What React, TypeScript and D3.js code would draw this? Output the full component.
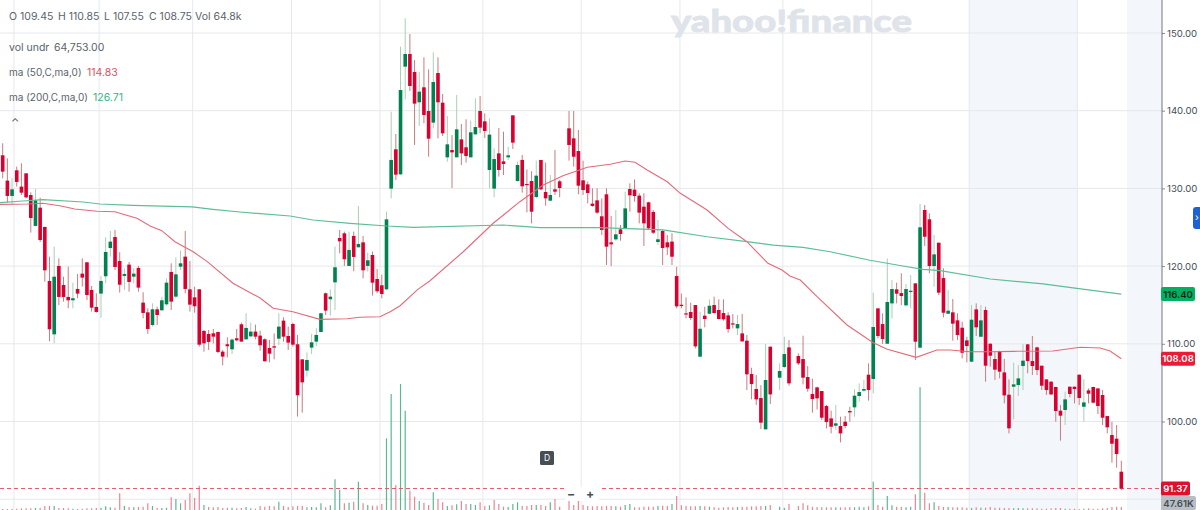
import React, { useEffect, useRef } from 'react';
import * as d3 from 'd3';

type Num = number | null;

// daily candles, oldest first. null = session with no candle drawn
const highs: Num[] = [
  135.80, 133.87, 131.30, 132.80, 133.23, 131.94, 129.50, 129.93, 128.81, 125.08,
  121.22, 122.50, 121.00, 118.64, 119.93, 117.87, 118.99, 121.00, 120.49, 117.44,
  116.50, 118.73, 123.71, 124.52, 124.65, 121.78, 119.72, 120.53, 119.72, 120.02,
  116.63, 114.57, 115.21, 114.78, 116.07, 118.43, 120.36, 121.13, 121.99, 124.52,
  120.66, 117.36, 117.06, 111.78, 111.78, 111.91, 111.57, 109.21, 110.84, 110.71,
  111.91, 112.72, 113.93, 112.72, 112.47, 111.69, 110.71, 110.49, 111.35, 113.93,
  113.41, 112.21, 112.72, 111.14, 108.00, 108.90, 111.27, 112.00, 114.01, 116.59,
  117.01, 122.50, 124.65, 124.44, 124.44, 124.44, 127.74, 123.88, 121.73, 121.86,
  119.63, 118.90, 127.01, 139.87, 137.00, 148.24, 151.89, 149.87, 146.53, 145.02,
  146.87, 145.32, 147.51, 146.87, 142.15, 139.32, 136.87, 142.02, 138.29, 138.89,
  138.72, 141.59, 141.89, 139.66, 139.02, 135.16, 137.77, 137.30, 135.37, 139.40,
  133.44, 134.30, 132.45, 132.20, 133.57, 133.66, 133.31, 131.72, 134.94, 131.08,
  null, 139.96, 139.96, 137.52, 133.57, 130.87, 130.01, 130.01, 128.72, 130.01,
  126.45, 127.22, 125.29, 129.58, 130.65, 131.17, 129.37, 129.37, 128.29, 127.22,
  125.93, 124.65, 124.00, 124.22, 119.92, 116.49, 115.98, 115.29, 114.99, 114.13,
  114.77, 115.72, 116.06, 115.72, 115.72, 114.05, 113.83, 113.70, 113.83, 111.13,
  106.92, 105.98, 104.69, 109.97, 109.63, null, 107.48, 110.91, 110.48, null,
  108.77, 111.04, 107.14, 105.51, 104.48, 103.92, 102.12, 101.39, 102.12, 100.62,
  100.70, 101.90, 104.14, 104.91, 105.34, 107.48, 116.58, 114.56, 113.92, 120.98,
  118.21, 117.86, 119.07, 117.69, 118.85, 117.78, 127.99, 127.86, 126.79, 124.00,
  123.01, 119.71, 116.92, 115.76, 113.92, 112.84, 110.91, 114.99, 115.20, 114.99,
  114.77, 110.06, 108.98, 109.11, 108.04, 105.42, 107.57, 107.27, 109.97, 109.97,
  111.00, 109.63, 107.18, 105.42, 105.21, 104.48, 102.12, 103.84, 104.48, 104.48,
  106.07, 105.42, 104.26, 104.48, 104.26, 104.05, 100.70, 99.97, 99.55, 94.96,
];
const lows: Num[] = [
  131.30, 128.17, 127.87, 130.23, 129.15, 128.73, 124.31, 125.08, 123.10, 118.00,
  110.32, 110.06, 115.00, 115.43, 114.57, 114.57, 115.86, 117.36, 115.64, 114.14,
  114.01, 113.37, 117.79, 121.22, 119.50, 116.59, 116.93, 116.71, 117.79, 116.71,
  113.28, 111.27, 112.21, 112.42, 114.27, 114.87, 114.35, 115.86, 119.50, 116.50,
  114.14, 114.01, 109.64, 108.99, 109.21, 110.06, 108.78, 107.23, 108.26, 108.69,
  110.32, 110.28, 110.49, 110.84, 110.58, 109.12, 107.71, 107.62, 108.00, 109.85,
  110.28, 109.21, 109.64, 100.63, 101.14, 105.77, 108.69, 109.72, 111.48, 113.71,
  113.63, 114.35, 121.65, 120.02, 120.02, 119.33, 122.42, 118.43, 119.29, 116.20,
  116.50, 115.86, 116.93, 128.72, 131.08, 131.72, 141.46, 142.54, 135.59, 138.03,
  138.37, 134.08, 137.73, 136.44, 136.74, 133.44, 130.05, 134.00, 133.01, 133.31,
  134.00, 136.87, 137.09, 136.49, 130.01, 128.85, 131.51, 131.72, 133.66, 135.07,
  130.87, 129.45, 126.92, 125.50, 128.72, 129.79, 127.78, 128.42, 129.15, 128.85,
  null, 133.57, 132.80, 129.24, 129.15, 128.08, 127.65, 126.71, 124.00, 120.14,
  120.01, 123.27, 123.27, 124.77, 127.00, 128.29, 125.50, 122.59, 124.73, 124.13,
  122.72, 120.14, 121.43, 120.14, 114.56, 114.56, 113.27, 113.06, 109.41, 108.34,
  112.12, 113.83, 113.92, 113.15, 112.97, 111.43, 111.99, 111.13, 110.27, 104.05,
  102.85, 102.12, 99.03, 98.99, 102.25, null, 104.05, 106.84, 104.61, null,
  107.27, 104.78, 103.84, 101.13, 101.56, 100.19, 99.12, 98.47, 98.90, 97.31,
  99.12, 99.97, 100.62, 102.55, 103.84, 102.68, 103.62, 110.70, 109.97, 109.97,
  113.27, 115.20, 114.99, 114.77, 114.56, 107.91, 109.41, 122.58, 119.07, 117.35,
  116.28, 113.40, 113.83, 110.40, 110.48, 108.12, 107.61, 107.65, 111.00, 110.91,
  105.12, 107.05, 105.34, 105.55, 102.33, 98.47, 100.27, 103.28, 104.05, 106.20,
  105.98, 105.98, 104.05, 103.41, 103.41, 99.97, 97.53, 99.55, 103.11, 102.33,
  102.12, 99.97, 102.33, 102.33, 100.96, 99.55, 98.47, 94.70, 94.06, 91.18,
];
const bodyTops: Num[] = [
  134.26, 131.00, 129.88, 132.33, 130.23, 131.94, 129.15, 128.47, 127.52, 125.04,
  118.09, 118.64, 120.02, 117.57, 116.03, 115.86, 117.06, 119.03, 120.49, 116.93,
  114.74, 118.09, 121.82, 123.15, 123.75, 120.66, 118.99, 120.19, 119.03, 119.76,
  115.30, 114.05, 114.44, 114.44, 115.60, 117.87, 119.25, 118.94, 120.36, 121.22,
  117.01, 115.98, 117.01, 111.65, 111.27, 111.35, 111.52, 108.99, 109.94, 110.54,
  110.71, 112.51, 112.04, 111.57, 111.57, 111.05, 110.58, 109.46, 109.68, 112.21,
  112.98, 111.01, 112.55, 109.94, 108.00, 107.92, 110.19, 111.14, 113.93, 116.50,
  116.07, 119.85, 123.62, 124.22, 122.08, 123.88, 122.85, 123.06, 120.75, 121.43,
  118.34, 117.53, 126.02, 133.66, 135.03, 142.66, 147.30, 147.30, 144.98, 142.45,
  143.01, 139.96, 143.69, 144.85, 141.03, 135.67, 134.94, 137.60, 136.31, 135.29,
  137.22, 137.90, 139.96, 138.63, 136.92, 133.78, 134.51, 133.48, 134.26, 139.40,
  133.01, 133.66, 130.57, 130.95, 131.64, 133.66, 129.54, 129.15, 129.88, 130.91,
  null, 137.73, 136.44, 134.81, 131.04, 130.52, 128.04, 128.46, 126.41, 129.24,
  123.06, 124.09, 124.73, 127.43, 129.92, 129.84, 129.07, 127.65, 128.21, 126.96,
  123.45, 124.52, 123.06, 123.15, 118.72, 115.03, 113.92, 114.09, 114.99, 111.94,
  113.62, 114.90, 114.99, 114.35, 113.96, 113.66, 112.63, 112.54, 111.34, 110.40,
  106.11, 104.18, 103.02, 105.34, 109.63, null, 106.50, 108.68, 109.54, null,
  108.43, 108.04, 105.72, 103.54, 104.39, 103.92, 101.99, 100.40, 99.76, 99.42,
  99.97, 101.35, 103.32, 103.79, 104.18, 106.02, 112.16, 114.56, 112.54, 115.38,
  117.05, 117.01, 116.53, 117.05, 116.83, 117.78, 124.99, 127.22, 126.02, 121.51,
  123.01, 118.46, 114.26, 114.05, 113.02, 112.07, 110.44, 113.10, 114.43, 113.02,
  114.35, 110.01, 108.04, 109.03, 106.32, 103.45, 104.78, 105.55, 107.83, 109.93,
  107.78, 109.54, 107.18, 105.42, 105.12, 104.44, 101.39, 102.85, 104.48, 104.48,
  106.02, 102.46, 104.01, 104.44, 104.26, 103.41, 100.70, 98.26, 97.79, 93.54,
];
const bodyBottoms: Num[] = [
  132.16, 129.03, 129.03, 130.83, 129.45, 128.85, 126.19, 125.17, 123.36, 119.46,
  111.87, 111.22, 116.03, 116.03, 115.60, 115.60, 116.46, 118.52, 116.28, 114.65,
  114.10, 116.46, 118.69, 122.33, 119.89, 117.61, 118.73, 117.96, 118.64, 117.23,
  113.97, 111.91, 112.42, 113.71, 114.31, 115.08, 115.43, 116.07, 119.93, 117.06,
  115.04, 114.83, 109.89, 110.06, 110.24, 110.92, 108.95, 108.35, 109.68, 109.29,
  110.45, 110.28, 110.58, 110.96, 110.92, 109.81, 107.75, 108.73, 109.51, 110.66,
  110.92, 110.15, 109.89, 103.37, 105.04, 106.55, 109.51, 110.28, 111.52, 114.27,
  115.73, 117.91, 123.19, 120.88, 120.02, 121.18, 122.42, 119.46, 120.02, 117.87,
  116.76, 116.41, 117.01, 129.97, 131.77, 131.81, 145.67, 143.18, 140.91, 141.08,
  139.45, 136.40, 138.46, 141.08, 137.09, 134.00, 134.64, 134.00, 134.51, 134.17,
  134.00, 136.96, 137.82, 137.39, 132.37, 129.97, 132.37, 133.14, 134.00, 135.89,
  130.95, 130.27, 130.44, 127.00, 128.89, 129.88, 128.72, 128.42, 129.58, 130.05,
  null, 135.59, 134.08, 130.35, 129.79, 129.41, 127.74, 126.88, 124.65, 122.50,
  122.80, 123.44, 124.13, 124.77, 129.11, 129.02, 126.88, 125.50, 124.86, 124.30,
  123.10, 122.33, 122.41, 121.21, 114.82, 114.86, 113.79, 113.32, 109.67, 108.34,
  113.19, 113.87, 113.96, 113.19, 113.15, 111.90, 112.50, 111.99, 110.31, 106.07,
  104.82, 102.85, 99.85, 98.99, 103.49, null, 105.64, 107.01, 104.91, null,
  107.48, 105.64, 104.22, 102.89, 102.98, 100.49, 99.93, 99.33, 99.46, 98.47,
  99.42, 101.17, 101.82, 103.28, 103.97, 104.05, 105.47, 111.00, 110.61, 110.01,
  115.20, 116.45, 116.15, 114.95, 116.66, 110.27, 109.50, 123.78, 120.01, 120.01,
  116.58, 114.00, 113.87, 112.59, 111.13, 108.85, 109.71, 107.70, 112.12, 110.91,
  107.18, 108.47, 106.67, 106.41, 103.36, 99.12, 104.48, 104.69, 107.14, 107.78,
  107.14, 106.62, 104.61, 104.05, 103.49, 101.35, 100.75, 101.48, 103.54, 104.18,
  103.02, 101.90, 103.58, 102.42, 101.99, 100.49, 99.25, 97.14, 95.81, 91.37,
];
// candles that closed above their open
const upCandles = [
  2, 7, 11, 15, 21, 22, 23, 26, 28, 32, 34, 35, 37, 38, 49, 52, 53, 59, 65, 66, 67, 68, 70, 71,
  74, 76, 78, 82, 83, 85, 86, 89, 92, 95, 97, 100, 101, 104, 105, 108, 110, 114, 117, 131, 133,
  140, 149, 151, 157, 163, 166, 167, 178, 182, 183, 184, 186, 189, 190, 193, 194, 196, 199, 202,
  207, 209, 216, 217, 218, 227, 231,
];

// volume in thousands
const volumes: Num[] = [
  16, 16, 16, 21, 27, 27, 27, 32, 37, 64, 64, 64, 32, 32, 27, 21, 16, 21, 27, 27,
  32, 37, 59, 43, 37, 267, 64, 48, 43, 48, 53, 107, 64, 32, 32, 37, 203, 176, 107, 160,
  267, 192, 389, 80, 48, 43, 48, 32, 37, 37, 27, 32, 48, 27, 21, 64, 53, 64, 59, 133,
  64, 48, 59, 64, 64, 43, 48, 43, 107, 43, 75, 491, 320, 107, 117, 133, 453, 107, 80, 69,
  69, 96, 1146, 1855, 400, 2015, 1589, 309, 213, 144, 117, 80, 283, 176, 123, 64, 75, 91, 144, 96,
  96, 80, 123, 64, 75, 160, 96, 53, 48, 96, 123, 64, 64, 80, 80, 80, 64, 123, 176, 53,
  null, 149, 80, 144, 80, 64, 59, 64, 59, 64, 64, 59, 53, 80, 96, 43, 43, 53, 53, 53,
  64, 69, 64, 96, 224, 75, 64, 59, 59, 64, 59, 53, 43, 37, 43, 48, 43, 48, 53, 53,
  59, 59, 64, 64, 80, null, 53, 37, 96, null, 64, 107, 75, 53, 48, 43, 43, 43, 43, 43,
  43, 48, 43, 53, 43, 59, 453, 80, 53, 224, 75, 53, 48, 43, 53, 251, 1962, 277, 107, 123,
  64, 48, 48, 43, 43, 43, 37, 32, 43, 37, 37, 48, 37, 37, 32, 32, 27, 32, 27, 27,
  27, 27, 21, 21, 27, 32, 32, 21, 21, 21, 16, 21, 27, 21, 21, 27, 32, 48, 53, 48,
];
// sessions whose volume bar is coloured against its candle
const volumeColorFlips = [43, 72, 105, 109, 143, 134];

// moving averages: candle index, price
const ma50Idx = [
  -0.6, 5.2, 8.6, 12.2, 15.4, 20.2, 24, 26.1, 28.7, 31.5, 34, 36.8, 40.7, 43.7, 49.2, 55, 57.8, 62,
  67.8, 73.6, 76.3, 80.6, 82.8, 84.9, 88.7, 91.3, 98.4, 104.8, 110.5, 115.5, 119.7, 124.9, 129.8,
  133, 135.1, 137.7, 142, 144.7, 150.5, 155, 159, 163.5, 166.5, 168.2, 170.4, 174, 180.4, 186, 189,
  195.2, 199.6, 202.4, 206.7, 211, 215.9, 224.4, 230.2, 234.5, 236.6, 239,
];
const ma50Val = [
  127.94, 127.99, 128.08, 127.77, 127.35, 127.05, 127.0, 126.62, 126.15, 125.16, 124.56, 123.14,
  121.85, 120.57, 117.79, 115.89, 114.57, 114.13, 113.15, 113.23, 113.41, 113.49, 114.13, 114.9,
  117.01, 118.12, 121.85, 125.51, 128.29, 130.44, 131.63, 132.72, 133.1, 133.53, 133.36, 132.37,
  130.86, 129.4, 127.22, 124.86, 123.14, 120.36, 119.5, 118.73, 118.21, 116.06, 112.42, 110.14,
  109.29, 108.26, 109.2, 109.2, 108.98, 108.98, 109.03, 109.07, 109.55, 109.46, 109.07, 108.08,
];
const ma200Idx = [
  -0.6, 4.3, 8.6, 17.2, 20.8, 27.8, 40.5, 44.9, 50.7, 61.4, 66.3, 74.2, 82.1, 87.7, 106.9, 114.8,
  127.6, 141.1, 150.5, 159, 164.6, 171, 176.8, 185.3, 191.7, 196.6, 200.3, 211, 222.3, 229.5, 239,
];
const ma200Val = [
  128.16, 128.38, 128.55, 128.25, 127.99, 127.82, 127.61, 127.31, 126.96, 126.45, 125.93, 125.51,
  125.16, 124.99, 125.29, 124.94, 124.94, 124.65, 123.78, 123.14, 122.71, 122.42, 121.85, 120.75,
  120.08, 119.59, 119.41, 118.34, 117.7, 117.14, 116.4,
];

const priceTicks = [90, 100, 110, 120, 130, 140, 150];
const labelTicks = [100, 110, 120, 130, 140, 150];
const monthTicks = [2.4, 20.6, 40.6, 61.7, 80.6, 102.6, 123.6, 144.7, 166.7, 185.7, 206.5, 229.6];
// extended hours bands, in candle index
const shadedBands: [number, number][] = [[206.5, 229.7], [240.2, 247.6]];

const ohlc: [string, string][] = [['O', '109.45'], ['H', '110.85'], ['L', '107.55'], ['C', '108.75'], ['Vol', '64.8k']];
const ohlcX = [9, 58, 104, 149, 195];

const UP = '#008150';
const DOWN = '#d9002f';
const UP_WICK = '#a9cfb4';
const DOWN_WICK = '#c97c7f';
const UP_VOL = '#5cb890';
const DOWN_VOL = '#ee8492';
const MA_RED = '#e56a78';
const MA_GREEN = '#5cbf96';
const TEXT = '#5b636a';
const GRID = '#e6e8ec';
const FONT = 'Inter, sans-serif';

const W = 1200;
const H = 510;
const AXIS_X = 1162;

const App: React.FC = () => {
  const svgRef = useRef<SVGSVGElement | null>(null);

  useEffect(() => {
    const svg = d3.select(svgRef.current);
    svg.selectAll('*').remove();

    const x = d3.scaleLinear().domain([0, 239]).range([2.7, 1121.3]);
    const y = d3.scaleLinear().domain([100, 150]).range([421.5, 33]);
    const yVol = d3.scaleLinear().domain([0, 2015]).range([510, 384]);
    const isUp = new Set(upCandles);

    svg.selectAll('rect.band').data(shadedBands).enter().append('rect')
      .attr('x', (d) => x(d[0])).attr('width', (d) => x(d[1]) - x(d[0]))
      .attr('y', 0).attr('height', H).attr('fill', '#f3f6fa');

    // grid
    svg.selectAll('line.gy').data(priceTicks).enter().append('line')
      .attr('x1', 0).attr('x2', AXIS_X).attr('y1', (d) => y(d)).attr('y2', (d) => y(d))
      .attr('stroke', GRID).attr('stroke-width', 1);
    svg.selectAll('line.gx').data(monthTicks).enter().append('line')
      .attr('x1', (d) => x(d)).attr('x2', (d) => x(d)).attr('y1', 0).attr('y2', H)
      .attr('stroke', GRID).attr('stroke-width', 1);

    svg.append('text').text('yahoo!finance')
      .attr('x', 671).attr('y', 32)
      .attr('textLength', 241).attr('lengthAdjust', 'spacingAndGlyphs')
      .attr('font-family', 'Lato, sans-serif').attr('font-weight', 900).attr('font-size', 31)
      .attr('fill', '#dfe3ea').attr('stroke', '#dfe3ea').attr('stroke-width', 0.8);

    // volume
    const volIdx = d3.range(volumes.length).filter((i) => volumes[i] !== null);
    svg.selectAll('line.vol').data(volIdx).enter().append('line')
      .attr('x1', (i) => x(i)).attr('x2', (i) => x(i))
      .attr('y1', H).attr('y2', (i) => yVol(volumes[i] as number))
      .attr('stroke', (i) => (isUp.has(i) !== volumeColorFlips.includes(i) ? UP_VOL : DOWN_VOL))
      .attr('stroke-width', 1.2);

    // last price line
    svg.append('line')
      .attr('x1', 0).attr('x2', AXIS_X).attr('y1', y(91.37)).attr('y2', y(91.37))
      .attr('stroke', '#e8566a').attr('stroke-width', 1).attr('stroke-dasharray', '4 3');

    // candles
    const idx = d3.range(highs.length).filter((i) => highs[i] !== null);
    svg.selectAll('line.wick').data(idx).enter().append('line')
      .attr('x1', (i) => x(i)).attr('x2', (i) => x(i))
      .attr('y1', (i) => y(highs[i] as number)).attr('y2', (i) => y(lows[i] as number))
      .attr('stroke', (i) => (isUp.has(i) ? UP_WICK : DOWN_WICK)).attr('stroke-width', 1);
    svg.selectAll('rect.body').data(idx).enter().append('rect')
      .attr('x', (i) => x(i) - 1.8).attr('width', 3.6)
      .attr('y', (i) => y(bodyTops[i] as number))
      .attr('height', (i) => Math.max(1.2, y(bodyBottoms[i] as number) - y(bodyTops[i] as number)))
      .attr('fill', (i) => (isUp.has(i) ? UP : DOWN));

    // moving averages
    const maLine = d3.line<[number, number]>().x((d) => x(d[0])).y((d) => y(d[1]));
    const ma50 = ma50Idx.map((d, i) => [d, ma50Val[i]] as [number, number]);
    const ma200 = ma200Idx.map((d, i) => [d, ma200Val[i]] as [number, number]);
    svg.append('path').attr('d', maLine(ma50)).attr('fill', 'none').attr('stroke', MA_RED).attr('stroke-width', 1.1);
    svg.append('path').attr('d', maLine(ma200)).attr('fill', 'none').attr('stroke', MA_GREEN).attr('stroke-width', 1.2);

    // price axis
    const axis = d3.axisRight(y).tickValues(labelTicks).tickFormat(d3.format('.2f')).tickSize(3).tickPadding(2);
    const axisG = svg.append('g').attr('transform', `translate(${AXIS_X},0)`).call(axis);
    axisG.select('.domain').remove();
    axisG.selectAll('.tick line').attr('stroke', '#8a9099');
    axisG.selectAll('.tick text').attr('font-family', FONT).attr('font-size', 9.6).attr('fill', '#464e56');
    svg.append('line').attr('x1', AXIS_X).attr('x2', AXIS_X).attr('y1', 0).attr('y2', H)
      .attr('stroke', '#6e757d').attr('stroke-width', 1);

    // price tags
    const tags = [
      { t: '116.40', cy: y(116.4), w: 34, bg: '#00b061', fg: '#16261c' },
      { t: '108.08', cy: y(108.08), w: 34, bg: '#eb1a35', fg: '#ffffff' },
      { t: '91.37', cy: y(91.37), w: 29, bg: '#e0102c', fg: '#ffffff' },
      { t: '47.61K', cy: 503, w: 35, bg: '#b9bec6', fg: '#464e56' },
    ];
    tags.forEach((tag) => {
      svg.append('rect').attr('x', AXIS_X - 1).attr('y', tag.cy - 7).attr('width', tag.w).attr('height', 14)
        .attr('rx', 2).attr('fill', tag.bg);
      svg.append('text').text(tag.t).attr('x', AXIS_X - 1 + tag.w / 2).attr('y', tag.cy + 3.5)
        .attr('text-anchor', 'middle').attr('font-family', FONT).attr('font-size', 9.6)
        .attr('font-weight', 600).attr('fill', tag.fg);
    });

    // side tab
    svg.append('rect').attr('x', 1193).attr('y', 207).attr('width', 12).attr('height', 22).attr('rx', 3).attr('fill', '#1d62d4');
    svg.append('text').text('›').attr('x', 1195).attr('y', 221).attr('font-family', FONT).attr('font-size', 10).attr('fill', '#ffffff');

    // legend
    const legend = (s: string, lx: number, ly: number, fill = TEXT, size = 10.5) =>
      svg.append('text').text(s).attr('x', lx).attr('y', ly)
        .attr('font-family', FONT).attr('font-size', size).attr('fill', fill);
    ohlc.forEach(([k, v], i) => legend(`${k} ${v}`, ohlcX[i], 20));
    legend('vol undr', 9, 51);
    legend('64,753.00', 54, 51);
    legend('ma (50,C,ma,0)', 9, 76, TEXT, 10);
    legend('114.83', 87, 76, '#e5505f');
    legend('ma (200,C,ma,0)', 9, 101, TEXT, 10);
    legend('126.71', 93, 101, '#35b583');
    legend('⌃', 11, 126);

    // interval badge and zoom buttons
    svg.append('rect').attr('x', 540).attr('y', 451).attr('width', 14).attr('height', 14).attr('rx', 1.5).attr('fill', '#464e56');
    svg.append('text').text('D').attr('x', 547).attr('y', 461).attr('text-anchor', 'middle')
      .attr('font-family', FONT).attr('font-size', 8.5).attr('fill', '#ffffff');
    svg.append('rect').attr('x', 565).attr('y', 487).attr('width', 34).attr('height', 14).attr('fill', '#ffffff');
    svg.append('text').text('−').attr('x', 571).attr('y', 497.5).attr('text-anchor', 'middle')
      .attr('font-family', FONT).attr('font-size', 12).attr('font-weight', 700).attr('fill', '#464e56');
    svg.append('text').text('+').attr('x', 590).attr('y', 497.5).attr('text-anchor', 'middle')
      .attr('font-family', FONT).attr('font-size', 12).attr('font-weight', 700).attr('fill', '#464e56');
  }, []);

  return (
    <svg
      ref={svgRef}
      width={W}
      height={H}
      style={{ position: 'absolute', left: 0, top: 0, background: '#ffffff' }}
    />
  );
};

export default App;
